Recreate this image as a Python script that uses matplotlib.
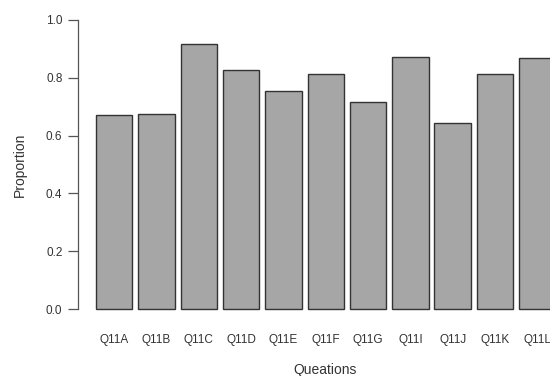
import matplotlib.pyplot as plt

questions = ['Q11A', 'Q11B', 'Q11C', 'Q11D', 'Q11E', 'Q11F',
             'Q11G', 'Q11I', 'Q11J', 'Q11K', 'Q11L']
proportion = [0.671, 0.675, 0.916, 0.827, 0.754, 0.812,
              0.715, 0.873, 0.645, 0.812, 0.867]
y_ticks = [0.0, 0.2, 0.4, 0.6, 0.8, 1.0]

plt.rcParams['font.family'] = ['Liberation Sans', 'DejaVu Sans']

fig = plt.figure(figsize=(5.5, 3.76), dpi=100)
ax = fig.add_axes([78 / 550, 1 - 320.6 / 376, 472 / 550, 312.2 / 376])

pos = list(range(len(questions)))
ax.bar(pos, proportion, width=0.86, color='#a6a6a6', edgecolor='#333333',
       linewidth=1.0, clip_on=True)

ax.set_xlim(-0.856, 10.30)
ax.set_ylim(-0.04, 1.04)

for s in ['top', 'right', 'bottom']:
    ax.spines[s].set_visible(False)
ax.spines['left'].set_bounds(0, 1)
ax.spines['left'].set_color('#555555')
ax.spines['left'].set_linewidth(0.9)

ax.set_yticks(y_ticks)
ax.set_yticklabels(['%.1f' % v for v in y_ticks])
ax.tick_params(axis='y', length=7.2, width=0.9, color='#555555', pad=4,
               labelsize=8.5, labelcolor='#333333')
ax.set_xticks(pos)
ax.set_xticklabels(questions)
ax.tick_params(axis='x', length=0, pad=10, labelsize=8.5, labelcolor='#333333')

fig.text(325 / 550, 1 - 370 / 376, 'Queations', ha='center', va='center',
         fontsize=10, color='#333333')
fig.text(20 / 550, 1 - 164.5 / 376, 'Proportion', ha='center', va='center',
         rotation=90, fontsize=10, color='#333333')

fig.savefig('out.png', dpi=100)
